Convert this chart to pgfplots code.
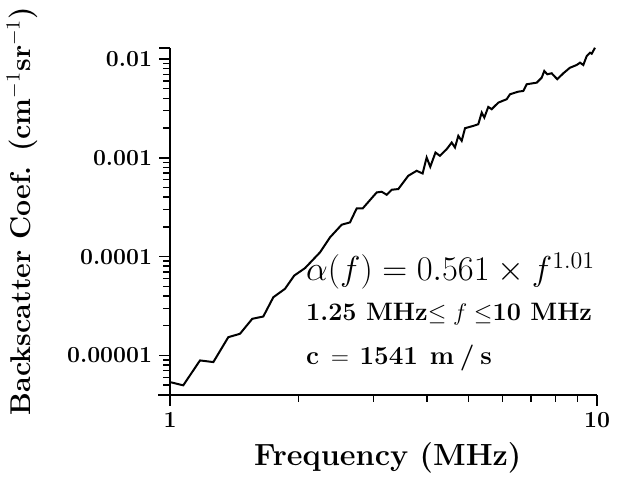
\documentclass[border=0pt]{standalone}
\usepackage{pgfplots}
\pgfplotsset{compat=1.18}
\usetikzlibrary{calc}
\begin{document}
\begin{tikzpicture}
\begin{loglogaxis}[
  scale only axis, width=213.5pt, height=173.5pt,
  xmin=1, xmax=10, ymin=4e-6, ymax=1.3e-2,
  axis lines=left, axis line style={-, line width=0.8pt},
  tick align=outside,
  major tick length=5.5pt,
  every tick/.style={black, line width=0.7pt},
  xtick={1,10}, xticklabels={\textbf{1},\textbf{10}},
  ytick={1e-5,1e-4,1e-3,1e-2},
  yticklabels={\textbf{0.00001},\textbf{0.0001},\textbf{0.001},\textbf{0.01}},
  extra x ticks={2,3,4,5,6,7,8,9},
  extra x tick labels={},
  extra y ticks={5e-6,6e-6,7e-6,8e-6,9e-6,2e-5,3e-5,4e-5,5e-5,6e-5,7e-5,8e-5,9e-5,2e-4,3e-4,4e-4,5e-4,6e-4,7e-4,8e-4,9e-4,2e-3,3e-3,4e-3,5e-3,6e-3,7e-3,8e-3,9e-3},
  extra y tick labels={},
  extra tick style={major tick length=3.5pt, grid=none},
  ticklabel style={font=\fontsize{11.5}{13}\selectfont},
  xlabel={\textbf{Frequency (MHz)}},
  ylabel={\textbf{Backscatter Coef. (cm$^{-1}$sr$^{-1}$)}},
  every axis x label/.style={at={(rel axis cs:0.51,0)}, yshift=-31.5pt, anchor=center, font=\fontsize{15.3}{18}\selectfont},
  every axis y label/.style={at={(rel axis cs:0,0.53)}, xshift=-74pt, rotate=90, anchor=center, font=\fontsize{14.3}{17}\selectfont},
  clip=false,
]
\addplot[black, line width=1pt] coordinates {
(1.000,5.37e-6) (1.0743,4.98e-6) (1.1337,7.05e-6) (1.1757,8.90e-6) (1.2634,8.56e-6)
(1.3695,1.530e-5) (1.4585,1.656e-5) (1.5584,2.348e-5) (1.6539,2.476e-5) (1.7457,3.880e-5)
(1.8588,4.718e-5) (1.9545,6.43e-5) (2.0711,7.65e-5) (2.2454,1.105e-4) (2.3697,1.566e-4)
(2.5238,2.104e-4) (2.6393,2.220e-4) (2.7365,3.075e-4) (2.8267,3.075e-4) (3.0486,4.463e-4)
(3.1318,4.536e-4) (3.2172,4.228e-4) (3.3050,4.751e-4) (3.4249,4.829e-4) (3.6142,6.58e-4)
(3.7818,7.39e-4) (3.9058,6.94e-4) (3.9913,1.007e-3) (4.0694,8.11e-4) (4.1853,1.131e-3)
(4.2878,1.047e-3) (4.4463,1.224e-3) (4.5678,1.427e-3) (4.6496,1.271e-3) (4.7338,1.668e-3)
(4.8210,1.485e-3) (4.9085,1.995e-3) (5.1323,2.104e-3) (5.2723,2.189e-3) (5.3703,2.868e-3)
(5.4462,2.554e-3) (5.5643,3.275e-3) (5.6677,3.104e-3) (5.8733,3.620e-3) (6.1442,3.916e-3)
(6.2555,4.398e-3) (6.5413,4.673e-3) (6.7200,4.750e-3) (6.8450,5.551e-3) (7.2240,5.762e-3)
(7.4214,6.474e-3) (7.5264,7.565e-3) (7.6488,7.005e-3) (7.8322,7.17e-3) (8.0724,6.236e-3)
(8.3385,7.17e-3) (8.6456,8.17e-3) (8.9637,8.70e-3) (9.1244,9.18e-3) (9.2881,8.70e-3)
(9.4608,1.072e-2) (9.6297,1.158e-2) (9.7188,1.131e-2) (9.8924,1.300e-2)
};
\draw[line width=0.8pt] (rel axis cs:0,0) -- ++(0pt,-5pt);
\draw[line width=0.8pt] (rel axis cs:0,0) -- ++(-6pt,0pt);
\draw[line width=0.8pt] (rel axis cs:0,1) -- ++(-5.5pt,0pt);
\node[anchor=base west, inner sep=0pt, font=\fontsize{18}{21}\selectfont] at (rel axis cs:0.318,0.3285) {$\alpha(f) = 0.561 \times f^{1.01}$};
\node[anchor=base west, inner sep=0pt, font=\fontsize{12.6}{14}\selectfont\bfseries] at (rel axis cs:0.318,0.213) {1.25\ MHz$\leq f \leq$10\ MHz};
\node[anchor=base west, inner sep=0pt, font=\fontsize{13}{14}\selectfont\bfseries] at (rel axis cs:0.318,0.0865) {c\hspace{0.45em}$=$\hspace{0.4em}1541\hspace{0.45em}m\hspace{0.22em}/\hspace{0.22em}s};
\coordinate (SW) at (rel axis cs:0,0);
\coordinate (NE) at (rel axis cs:1,1);
\end{loglogaxis}
\path ($(SW)+(-85pt,-42.5pt)$) rectangle ($(NE)+(11.5pt,23.5pt)$);
\end{tikzpicture}
\end{document}
